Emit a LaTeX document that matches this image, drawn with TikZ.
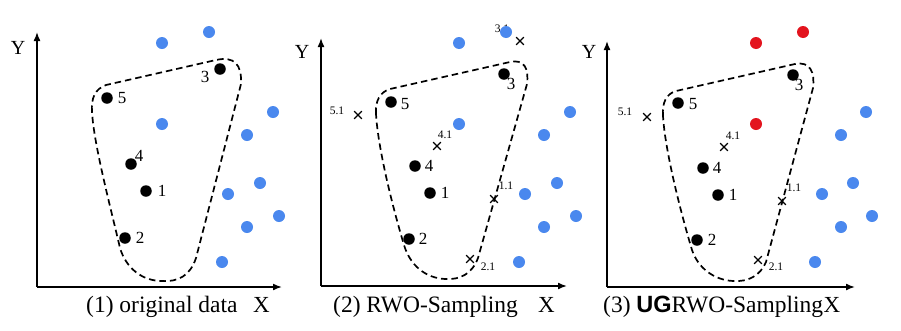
\documentclass[tikz,border=0pt]{standalone}
\usepackage{fontspec}
\setmainfont{Liberation Serif}
\newfontfamily\ugsans{Liberation Sans}
\usetikzlibrary{arrows.meta,shapes.misc}
\definecolor{ptblue}{HTML}{4A88EE}
\definecolor{ptred}{HTML}{E3141E}
\tikzset{
  bluedot/.style={circle,fill=ptblue,inner sep=0pt,minimum size=12pt},
  reddot/.style={circle,fill=ptred,inner sep=0pt,minimum size=12pt},
  blackdot/.style={circle,fill=black,inner sep=0pt,minimum size=11.5pt},
  numlab/.style={inner sep=0pt,font=\fontsize{17}{17}\selectfont},
  smalllab/.style={inner sep=0pt,font=\fontsize{11.5}{11.5}\selectfont},
  xmark/.style={cross out,draw=black,line width=1.2pt,inner sep=0pt,minimum size=6.5pt},
  axis/.style={line width=1.6pt,-{Latex[length=9pt,width=7pt]}},
  blob/.style={line width=1.7pt,dash pattern=on 6.5pt off 4pt},
  axlabY/.style={inner sep=0pt,font=\fontsize{20}{20}\selectfont},
  axlabX/.style={inner sep=0pt,anchor=base west,font=\fontsize{23}{23}\selectfont},
  caption/.style={inner sep=0pt,anchor=base west,font=\fontsize{23.5}{23.5}\selectfont}
}
\begin{document}
\begin{tikzpicture}[x=1pt,y=-1pt]
\useasboundingbox[fill=white] (0,0) rectangle (901,330);

% ================= Panel 1 =================
\coordinate (oA) at (37,287);
\coordinate (yA) at (37,32);
\coordinate (xA) at (282,287);
\draw[axis] (oA) -- (yA);
\draw[axis] (oA) -- (xA);
\node[axlabY] (YA) at (18,48) {Y};
\node[axlabX] (XA) at (253,312) {X};
\node[caption] (capA) at (86,312) {(1) original data};

\draw[blob] (92,112) .. controls (91,98) and (95,89) .. (106,85) -- (216,60)
  .. controls (234,56) and (242,64) .. (241,84) -- (196,258)
  .. controls (190,276) and (178,282) .. (162,281)
  .. controls (142,281) and (126,268) .. (120,248)
  .. controls (110,205) and (94,145) .. (92,112) -- cycle;

\foreach \p [count=\i] in {(162,43),(209,32),(162,124),(273,112),(247,135),(260,183),(228,194),(279,216),(247,227),(222,262)}
  \node[bluedot] (bA\i) at \p {};

\node[blackdot] (kA3) at (220,69) {};
\node[blackdot] (kA5) at (107,98) {};
\node[blackdot] (kA4) at (131,164) {};
\node[blackdot] (kA1) at (146,191) {};
\node[blackdot] (kA2) at (125,238) {};
\node[numlab] (lA3) at (205,77) {3};
\node[numlab] (lA5) at (122,98) {5};
\node[numlab] (lA4) at (139,156) {4};
\node[numlab] (lA1) at (162,191) {1};
\node[numlab] (lA2) at (140,238) {2};

% ================= Panel 2 =================
\coordinate (oB) at (321,286);
\coordinate (yB) at (321,38);
\coordinate (xB) at (567,286);
\draw[axis] (oB) -- (yB);
\draw[axis] (oB) -- (xB);
\node[axlabY] (YB) at (302,52) {Y};
\node[axlabX] (XB) at (538,312) {X};
\node[caption] (capB) at (333,312) {(2) RWO-Sampling};

\draw[blob] (376,114) .. controls (375,101) and (380,92) .. (390,89) -- (510,62)
  .. controls (524,59) and (529,68) .. (527,84) -- (478,258)
  .. controls (472,274) and (460,280) .. (445,279)
  .. controls (425,278) and (410,265) .. (404,245)
  .. controls (392,205) and (378,148) .. (376,114) -- cycle;

\node[smalllab] (sB31) at (502,29) {3.1};
\foreach \p [count=\i] in {(459,43),(506,32),(459,124),(570,112),(544,135),(557,183),(525,194),(576,216),(544,227),(519,262)}
  \node[bluedot] (bB\i) at \p {};

\node[blackdot] (kB3) at (504,74) {};
\node[blackdot] (kB5) at (391,102) {};
\node[blackdot] (kB4) at (415,166) {};
\node[blackdot] (kB1) at (430,193) {};
\node[blackdot] (kB2) at (409,239) {};
\node[numlab] (lB3) at (511,84) {3};
\node[numlab] (lB5) at (405,104) {5};
\node[numlab] (lB4) at (429,166) {4};
\node[numlab] (lB1) at (445,193) {1};
\node[numlab] (lB2) at (423,239) {2};

\node[xmark] (cB51) at (358,115) {};
\node[xmark] (cB41) at (437,146) {};
\node[xmark] (cB31) at (520,41) {};
\node[xmark] (cB11) at (494,199) {};
\node[xmark] (cB21) at (470,259) {};
\node[smalllab] (sB51) at (337,111) {5.1};
\node[smalllab] (sB41) at (445,135) {4.1};
\node[smalllab] (sB11) at (506,186) {1.1};
\node[smalllab] (sB21) at (488,267) {2.1};

% ================= Panel 3 =================
\coordinate (oC) at (607,287);
\coordinate (yC) at (607,41);
\coordinate (xC) at (855,287);
\draw[axis] (oC) -- (yC);
\draw[axis] (oC) -- (xC);
\node[axlabY] (YC) at (589,52) {Y};
\node[caption] (capC) at (603,312) {(3) {\ugsans\bfseries UG}RWO-Sampling};
\node[axlabX] (XC) at (capC.base east) {X};

\draw[blob] (663,116) .. controls (662,103) and (666,94) .. (676,91) -- (795,64)
  .. controls (810,61) and (815,72) .. (813,88) -- (766,262)
  .. controls (760,276) and (748,282) .. (733,281)
  .. controls (714,280) and (698,268) .. (692,250)
  .. controls (680,210) and (665,150) .. (663,116) -- cycle;

\foreach \p [count=\i] in {(756,43),(803,32),(756,124)}
  \node[reddot] (rC\i) at \p {};
\foreach \p [count=\i] in {(866,112),(841,135),(853,183),(822,194),(872,216),(841,227),(815,262)}
  \node[bluedot] (bC\i) at \p {};

\node[blackdot] (kC3) at (793,75) {};
\node[blackdot] (kC5) at (678,103) {};
\node[blackdot] (kC4) at (703,168) {};
\node[blackdot] (kC1) at (718,195) {};
\node[blackdot] (kC2) at (697,240) {};
\node[numlab] (lC3) at (799,85) {3};
\node[numlab] (lC5) at (693,104) {5};
\node[numlab] (lC4) at (717,168) {4};
\node[numlab] (lC1) at (733,195) {1};
\node[numlab] (lC2) at (712,240) {2};

\node[xmark] (cC51) at (647,117) {};
\node[xmark] (cC41) at (724,147) {};
\node[xmark] (cC11) at (782,201) {};
\node[xmark] (cC21) at (758,260) {};
\node[smalllab] (sC51) at (625,112) {5.1};
\node[smalllab] (sC41) at (733,136) {4.1};
\node[smalllab] (sC11) at (794,188) {1.1};
\node[smalllab] (sC21) at (776,267) {2.1};
\end{tikzpicture}
\end{document}
